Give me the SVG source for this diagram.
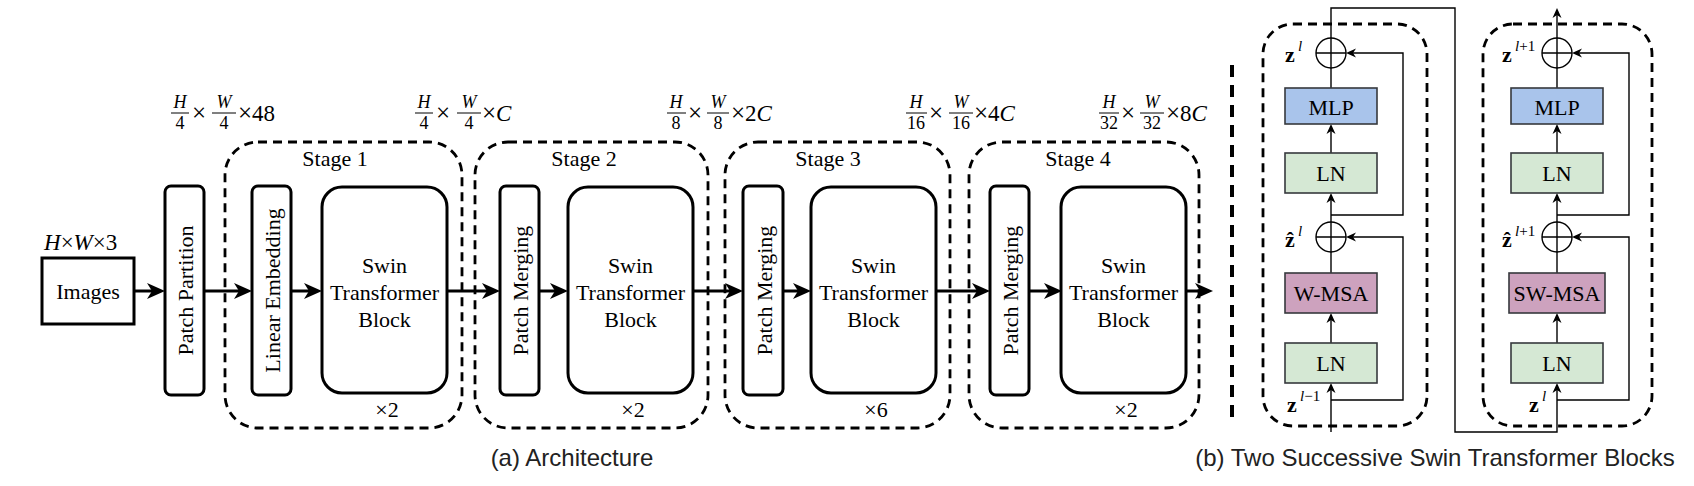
<svg xmlns="http://www.w3.org/2000/svg" width="1694" height="486" viewBox="0 0 1694 486">
<defs>
<style>
.t{font-family:"Liberation Serif","Times New Roman",serif;font-size:22px;fill:#000}
.ti{font-family:"Liberation Serif","Times New Roman",serif;font-style:italic;fill:#000}
.x{font-family:"Liberation Serif","Times New Roman",serif;font-size:25px;fill:#000}
.fr{font-family:"Liberation Serif","Times New Roman",serif;font-size:18px;fill:#000;text-anchor:middle}
.cap{font-family:"Liberation Sans",Arial,sans-serif;font-size:24px;fill:#222;text-anchor:middle}
.blk{fill:#fff;stroke:#000;stroke-width:3}
.stage{fill:none;stroke:#000;stroke-width:2.8;stroke-dasharray:9 6}
.main{stroke:#000;stroke-width:3;fill:none}
.thin{stroke:#000;stroke-width:1.4;fill:none}
.bar{stroke:#000;stroke-width:1}
.mlp{fill:#a9c4eb;stroke:#36393d;stroke-width:1.6}
.ln{fill:#d5e8d4;stroke:#36393d;stroke-width:1.6}
.msa{fill:#cda2be;stroke:#36393d;stroke-width:1.6}
.circ{fill:#fff;stroke:#000;stroke-width:1.4}
.zb{font-family:"Liberation Serif","Times New Roman",serif;font-weight:bold;font-size:22px;fill:#000}
.sup{font-family:"Liberation Serif","Times New Roman",serif;font-size:15px;fill:#000}
.mid{text-anchor:middle}
</style>
<marker id="ah" markerUnits="userSpaceOnUse" markerWidth="24" markerHeight="20" viewBox="-18 -10 24 20" refX="-5" refY="0" orient="auto"><path d="M0,0 L-18,-8 L-13,0 L-18,8 Z" fill="#000"/></marker>
<marker id="as" markerUnits="userSpaceOnUse" markerWidth="16" markerHeight="12" viewBox="-12 -6 16 12" refX="-3" refY="0" orient="auto"><path d="M0,0 L-10,-4.5 L-7,0 L-10,4.5 Z" fill="#000"/></marker>
</defs>
<rect width="1694" height="486" fill="#fff"/>

<g id="dims">
<g id="dim0">
<text class="ti" x="44" y="250" font-size="23">H<tspan font-style="normal">×</tspan>W<tspan font-style="normal">×</tspan><tspan font-style="normal">3</tspan></text>
</g>
<g id="dim1">
<text class="fr" x="180" y="108" font-style="italic">H</text><line class="bar" x1="171" y1="113" x2="189" y2="113"/><text class="fr" x="180" y="129">4</text>
<text class="x" x="192" y="121">×</text>
<text class="fr" x="224" y="108" font-style="italic">W</text><line class="bar" x1="212" y1="113" x2="236" y2="113"/><text class="fr" x="224" y="129">4</text>
<text class="x" x="238" y="121">×<tspan font-size="23">48</tspan></text>
</g>
<g id="dim2">
<text class="fr" x="424" y="108" font-style="italic">H</text><line class="bar" x1="415" y1="113" x2="433" y2="113"/><text class="fr" x="424" y="129">4</text>
<text class="x" x="436" y="121">×</text>
<text class="fr" x="469" y="108" font-style="italic">W</text><line class="bar" x1="457" y1="113" x2="481" y2="113"/><text class="fr" x="469" y="129">4</text>
<text class="x" x="482" y="121">×<tspan font-style="italic" font-size="23">C</tspan></text>
</g>
<g id="dim3">
<text class="fr" x="676" y="108" font-style="italic">H</text><line class="bar" x1="667" y1="113" x2="686" y2="113"/><text class="fr" x="676" y="129">8</text>
<text class="x" x="688" y="121">×</text>
<text class="fr" x="718" y="108" font-style="italic">W</text><line class="bar" x1="707" y1="113" x2="729" y2="113"/><text class="fr" x="718" y="129">8</text>
<text class="x" x="731" y="121">×<tspan font-size="23">2</tspan><tspan font-style="italic" font-size="23">C</tspan></text>
</g>
<g id="dim4">
<text class="fr" x="916" y="108" font-style="italic">H</text><line class="bar" x1="906" y1="113" x2="927" y2="113"/><text class="fr" x="916" y="129">16</text>
<text class="x" x="929" y="121">×</text>
<text class="fr" x="961" y="108" font-style="italic">W</text><line class="bar" x1="949" y1="113" x2="973" y2="113"/><text class="fr" x="961" y="129">16</text>
<text class="x" x="974" y="121">×<tspan font-size="23">4</tspan><tspan font-style="italic" font-size="23">C</tspan></text>
</g>
<g id="dim5">
<text class="fr" x="1109" y="108" font-style="italic">H</text><line class="bar" x1="1099" y1="113" x2="1119" y2="113"/><text class="fr" x="1109" y="129">32</text>
<text class="x" x="1121" y="121">×</text>
<text class="fr" x="1152" y="108" font-style="italic">W</text><line class="bar" x1="1140" y1="113" x2="1164" y2="113"/><text class="fr" x="1152" y="129">32</text>
<text class="x" x="1166" y="121">×<tspan font-size="23">8</tspan><tspan font-style="italic" font-size="23">C</tspan></text>
</g>
</g>

<g id="stage1"><rect class="stage" x="225" y="142" width="237" height="286" rx="33"/><text class="t mid" x="335" y="166">Stage 1</text><text class="t mid" x="387" y="417" font-size="20">×2</text></g>
<g id="stage2"><rect class="stage" x="475" y="142" width="233" height="286" rx="33"/><text class="t mid" x="584" y="166">Stage 2</text><text class="t mid" x="633" y="417" font-size="20">×2</text></g>
<g id="stage3"><rect class="stage" x="725" y="142" width="225" height="286" rx="33"/><text class="t mid" x="828" y="166">Stage 3</text><text class="t mid" x="876" y="417" font-size="20">×6</text></g>
<g id="stage4"><rect class="stage" x="969" y="142" width="230" height="286" rx="33"/><text class="t mid" x="1078" y="166">Stage 4</text><text class="t mid" x="1126" y="417" font-size="20">×2</text></g>

<g id="images"><rect class="blk" x="42" y="258" width="92" height="66"/><text class="t mid" x="88" y="299">Images</text></g>
<g id="patch-partition"><rect class="blk" x="165" y="186" width="39" height="209" rx="6"/><text class="t mid" transform="translate(193,290.5) rotate(-90)">Patch Partition</text></g>
<g id="linear-embedding"><rect class="blk" x="252" y="186" width="39" height="209" rx="6"/><text class="t mid" transform="translate(280,290.5) rotate(-90)">Linear Embedding</text></g>
<g id="swin1"><rect class="blk" x="322" y="187" width="125" height="206" rx="20"/><text class="t mid" x="384.5" y="273">Swin</text><text class="t mid" x="384.5" y="300">Transformer</text><text class="t mid" x="384.5" y="327">Block</text></g>
<g id="patch-merging2"><rect class="blk" x="500" y="186" width="39" height="209" rx="6"/><text class="t mid" transform="translate(528,290.5) rotate(-90)">Patch Merging</text></g>
<g id="swin2"><rect class="blk" x="568" y="187" width="125" height="206" rx="20"/><text class="t mid" x="630.5" y="273">Swin</text><text class="t mid" x="630.5" y="300">Transformer</text><text class="t mid" x="630.5" y="327">Block</text></g>
<g id="patch-merging3"><rect class="blk" x="743" y="186" width="40" height="209" rx="6"/><text class="t mid" transform="translate(771.5,290.5) rotate(-90)">Patch Merging</text></g>
<g id="swin3"><rect class="blk" x="811" y="187" width="125" height="206" rx="20"/><text class="t mid" x="873.5" y="273">Swin</text><text class="t mid" x="873.5" y="300">Transformer</text><text class="t mid" x="873.5" y="327">Block</text></g>
<g id="patch-merging4"><rect class="blk" x="990" y="186" width="39" height="209" rx="6"/><text class="t mid" transform="translate(1018,290.5) rotate(-90)">Patch Merging</text></g>
<g id="swin4"><rect class="blk" x="1061" y="187" width="125" height="206" rx="20"/><text class="t mid" x="1123.5" y="273">Swin</text><text class="t mid" x="1123.5" y="300">Transformer</text><text class="t mid" x="1123.5" y="327">Block</text></g>

<line x1="1232" y1="65" x2="1232" y2="425" stroke="#000" stroke-width="4" stroke-dasharray="12 8"/>

<g id="block-l"><rect class="stage" x="1263" y="24" width="164" height="402" rx="30"/></g>
<g id="block-r"><rect class="stage" x="1483" y="24" width="169" height="402" rx="30"/></g>

<g id="connectors">
<line class="main" x1="134" y1="291" x2="160" y2="291" marker-end="url(#ah)"/>
<line class="main" x1="204" y1="291" x2="247" y2="291" marker-end="url(#ah)"/>
<line class="main" x1="291" y1="291" x2="317" y2="291" marker-end="url(#ah)"/>
<line class="main" x1="447" y1="291" x2="495" y2="291" marker-end="url(#ah)"/>
<line class="main" x1="539" y1="291" x2="563" y2="291" marker-end="url(#ah)"/>
<line class="main" x1="693" y1="291" x2="738" y2="291" marker-end="url(#ah)"/>
<line class="main" x1="783" y1="291" x2="806" y2="291" marker-end="url(#ah)"/>
<line class="main" x1="936" y1="291" x2="985" y2="291" marker-end="url(#ah)"/>
<line class="main" x1="1029" y1="291" x2="1057" y2="291" marker-end="url(#ah)"/>
<line class="main" x1="1186" y1="291" x2="1208" y2="291" marker-end="url(#ah)"/>

<line class="thin" x1="1331" y1="432" x2="1331" y2="386" marker-end="url(#as)"/>
<line class="thin" x1="1331" y1="343" x2="1331" y2="316" marker-end="url(#as)"/>
<line class="thin" x1="1331" y1="273" x2="1331" y2="252"/>
<line class="thin" x1="1331" y1="222" x2="1331" y2="196" marker-end="url(#as)"/>
<line class="thin" x1="1331" y1="153" x2="1331" y2="127" marker-end="url(#as)"/>
<line class="thin" x1="1331" y1="88" x2="1331" y2="68"/>
<path class="thin" d="M1331,400 H1403 V237 H1349" marker-end="url(#as)"/>
<path class="thin" d="M1331,215 H1403 V53 H1349" marker-end="url(#as)"/>
<path class="thin" d="M1331,38 V8 H1455 V432 H1557 V386" marker-end="url(#as)"/>
<line class="thin" x1="1557" y1="343" x2="1557" y2="316" marker-end="url(#as)"/>
<line class="thin" x1="1557" y1="273" x2="1557" y2="252"/>
<line class="thin" x1="1557" y1="222" x2="1557" y2="196" marker-end="url(#as)"/>
<line class="thin" x1="1557" y1="153" x2="1557" y2="127" marker-end="url(#as)"/>
<line class="thin" x1="1557" y1="88" x2="1557" y2="68"/>
<line class="thin" x1="1557" y1="38" x2="1557" y2="11" marker-end="url(#as)"/>
<path class="thin" d="M1557,400 H1629 V237 H1575" marker-end="url(#as)"/>
<path class="thin" d="M1557,215 H1629 V53 H1575" marker-end="url(#as)"/>
</g>

<g id="add-l1"><circle class="circ" cx="1331" cy="53" r="15"/><path class="thin" d="M1316,53 H1346 M1331,38 V68"/></g>
<g id="mlp-l"><rect class="mlp" x="1285" y="88" width="92" height="36"/><text class="t mid" x="1331" y="115">MLP</text></g>
<g id="ln-l2"><rect class="ln" x="1285" y="153" width="92" height="40"/><text class="t mid" x="1331" y="181">LN</text></g>
<g id="add-l2"><circle class="circ" cx="1331" cy="237" r="15"/><path class="thin" d="M1316,237 H1346 M1331,222 V252"/></g>
<g id="wmsa"><rect class="msa" x="1285" y="273" width="92" height="40"/><text class="t mid" x="1331" y="301">W-MSA</text></g>
<g id="ln-l1"><rect class="ln" x="1285" y="343" width="92" height="40"/><text class="t mid" x="1331" y="371">LN</text></g>
<g id="labels-l">
<text class="zb" x="1285" y="62">z</text><text class="sup" x="1298" y="51" font-style="italic">l</text>
<text class="zb" x="1285" y="247">ẑ</text><text class="sup" x="1298" y="236" font-style="italic">l</text>
<text class="zb" x="1287" y="412">z</text><text class="sup" x="1300" y="401"><tspan font-style="italic">l</tspan>−1</text>
</g>

<g id="add-r1"><circle class="circ" cx="1557" cy="53" r="15"/><path class="thin" d="M1542,53 H1572 M1557,38 V68"/></g>
<g id="mlp-r"><rect class="mlp" x="1511" y="88" width="92" height="36"/><text class="t mid" x="1557" y="115">MLP</text></g>
<g id="ln-r2"><rect class="ln" x="1511" y="153" width="92" height="40"/><text class="t mid" x="1557" y="181">LN</text></g>
<g id="add-r2"><circle class="circ" cx="1557" cy="237" r="15"/><path class="thin" d="M1542,237 H1572 M1557,222 V252"/></g>
<g id="swmsa"><rect class="msa" x="1509" y="273" width="96" height="40"/><text class="t mid" x="1557" y="301">SW-MSA</text></g>
<g id="ln-r1"><rect class="ln" x="1511" y="343" width="92" height="40"/><text class="t mid" x="1557" y="371">LN</text></g>
<g id="labels-r">
<text class="zb" x="1502" y="62">z</text><text class="sup" x="1515" y="51"><tspan font-style="italic">l</tspan>+1</text>
<text class="zb" x="1502" y="247">ẑ</text><text class="sup" x="1515" y="236"><tspan font-style="italic">l</tspan>+1</text>
<text class="zb" x="1529" y="412">z</text><text class="sup" x="1542" y="401" font-style="italic">l</text>
</g>

<text class="cap" x="572" y="466">(a) Architecture</text>
<text class="cap" x="1435" y="466">(b) Two Successive Swin Transformer Blocks</text>
</svg>
